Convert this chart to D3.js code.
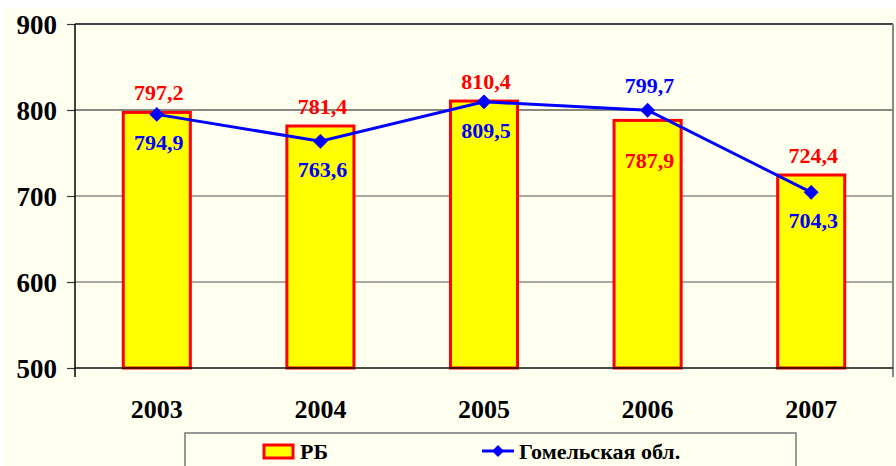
<!DOCTYPE html>
<html>
<head>
<meta charset="utf-8">
<script src="https://cdn.jsdelivr.net/npm/d3@7"></script>
<style>
  body { margin: 0; background: #fff; }
  svg text { font-family: "Liberation Serif", "Times New Roman", Times, "DejaVu Serif", serif !important; font-weight: bold; }
</style>
</head>
<body>
<svg id="chart" width="896" height="466"></svg>
<script>
let width = 896;
let height = 466;

let years = ["2003", "2004", "2005", "2006", "2007"];
let rbValues = [797.2, 781.4, 810.4, 787.9, 724.4];
let gomelValues = [794.9, 763.6, 809.5, 799.7, 704.3];
let yTicks = [500, 600, 700, 800, 900];
// label placement: true = above the mark
let rbAbove = [true, true, true, false, true];
let gomelAbove = [false, false, false, true, false];

let fmt = v => d3.format(".1f")(v).replace(".", ",");

let svg = d3.select("#chart");
let margin = { top: 24, right: 3, bottom: 98, left: 75 };

// cream background
svg.append("rect")
  .attr("x", 4).attr("y", 8)
  .attr("width", width - 4).attr("height", height - 8)
  .attr("fill", "#fffff0");

let x = d3.scaleBand()
  .domain(years)
  .range([margin.left, width - margin.right])
  .paddingInner(0.59)
  .paddingOuter(0.295);

let y = d3.scaleLinear()
  .domain([500, 900])
  .range([height - margin.bottom, margin.top]);

// gridlines
svg.append("g")
  .selectAll("line")
  .data(yTicks.filter(d => d > 500 && d < 900))
  .join("line")
  .attr("x1", margin.left).attr("x2", width - margin.right)
  .attr("y1", d => y(d)).attr("y2", d => y(d))
  .attr("stroke", d => d == 800 ? "#111" : "#555")
  .attr("stroke-width", 1.2);

// frame top and right
svg.append("line")
  .attr("x1", margin.left).attr("x2", width - margin.right)
  .attr("y1", y(900)).attr("y2", y(900))
  .attr("stroke", "#444").attr("stroke-width", 2);
svg.append("line")
  .attr("x1", width - margin.right).attr("x2", width - margin.right)
  .attr("y1", y(900)).attr("y2", y(500) + 9)
  .attr("stroke", "#888").attr("stroke-width", 2);

// bars
svg.append("g")
  .selectAll("rect")
  .data(years)
  .join("rect")
  .attr("x", d => x(d))
  .attr("y", (d, i) => y(rbValues[i]))
  .attr("width", x.bandwidth())
  .attr("height", (d, i) => y(500) - y(rbValues[i]))
  .attr("fill", "#ffff00")
  .attr("stroke", "#ff0000")
  .attr("stroke-width", 3);

// bottom axis line
svg.append("line")
  .attr("x1", margin.left).attr("x2", width - margin.right)
  .attr("y1", y(500)).attr("y2", y(500))
  .attr("stroke", "#111").attr("stroke-width", 1.5);

// y axis
let yAxis = svg.append("g")
  .attr("transform", `translate(${margin.left},0)`)
  .call(d3.axisLeft(y).tickValues(yTicks).tickSize(8).tickPadding(10))
  .call(g => g.select(".domain").remove());
yAxis.selectAll("line").attr("stroke", "#333").attr("stroke-width", 1.2);
yAxis.selectAll("text")
  .attr("font-size", "27px")
  .attr("fill", "#000")
  .attr("dy", "0.35em");
svg.append("line")
  .attr("x1", margin.left).attr("x2", margin.left)
  .attr("y1", y(900)).attr("y2", y(500) + 9)
  .attr("stroke", "#000").attr("stroke-width", 1.5);

// x labels
svg.append("g")
  .selectAll("text")
  .data(years)
  .join("text")
  .attr("x", d => x(d) + x.bandwidth() / 2)
  .attr("y", y(500) + 50)
  .attr("text-anchor", "middle")
  .attr("font-size", "26px")
  .attr("fill", "#000")
  .text(d => d);

// line
let line = d3.line()
  .x((d, i) => x(years[i]) + x.bandwidth() / 2)
  .y(d => y(d));

svg.append("path")
  .datum(gomelValues)
  .attr("d", line)
  .attr("fill", "none")
  .attr("stroke", "#0000ff")
  .attr("stroke-width", 3);

let diamond = d3.symbol().type(d3.symbolSquare).size(110);
svg.append("g")
  .selectAll("path")
  .data(gomelValues)
  .join("path")
  .attr("d", diamond)
  .attr("transform", (d, i) => `translate(${x(years[i]) + x.bandwidth() / 2},${y(d)}) rotate(45)`)
  .attr("fill", "#0000ff");

// labels RB
svg.append("g")
  .selectAll("text")
  .data(rbValues)
  .join("text")
  .attr("x", (d, i) => x(years[i]) + x.bandwidth() / 2 + 2)
  .attr("y", (d, i) => rbAbove[i] ? y(d) - 12 : y(d) + 48)
  .attr("text-anchor", "middle")
  .attr("font-size", "22px")
  .attr("fill", "#ff0000")
  .text(d => fmt(d));

// labels Gomel
svg.append("g")
  .selectAll("text")
  .data(gomelValues)
  .join("text")
  .attr("x", (d, i) => x(years[i]) + x.bandwidth() / 2 + 2)
  .attr("y", (d, i) => gomelAbove[i] ? y(d) - 17 : y(d) + 36)
  .attr("text-anchor", "middle")
  .attr("font-size", "22px")
  .attr("fill", "#0000ff")
  .text(d => fmt(d));

// legend
let legend = svg.append("g");
legend.append("rect")
  .attr("x", 185).attr("y", 433)
  .attr("width", 611).attr("height", 50)
  .attr("fill", "#fffff0")
  .attr("stroke", "#777").attr("stroke-width", 1.5);
legend.append("rect")
  .attr("x", 264).attr("y", 445)
  .attr("width", 29).attr("height", 13)
  .attr("fill", "#ffff00").attr("stroke", "#ff0000").attr("stroke-width", 3);
legend.append("text")
  .attr("x", 300).attr("y", 459)
  .attr("font-size", "22px").attr("fill", "#000")
  .text("РБ");
legend.append("line")
  .attr("x1", 482).attr("x2", 514).attr("y1", 451).attr("y2", 451)
  .attr("stroke", "#0000ff").attr("stroke-width", 3);
legend.append("path")
  .attr("d", d3.symbol().type(d3.symbolSquare).size(70))
  .attr("transform", "translate(498,451) rotate(45)")
  .attr("fill", "#0000ff");
legend.append("text")
  .attr("x", 519).attr("y", 459)
  .attr("font-size", "22px").attr("fill", "#000")
  .text("Гомельская обл.");
</script>
</body>
</html>
